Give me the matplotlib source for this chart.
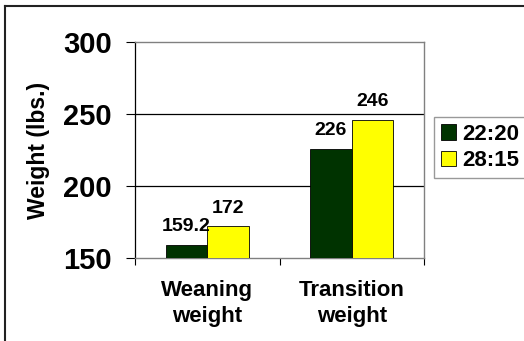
import matplotlib
matplotlib.use("Agg")
import matplotlib.pyplot as plt
from matplotlib.lines import Line2D
from matplotlib.patches import Patch
import numpy as np

# 数据
categories = ["Weaning\nweight", "Transition\nweight"]
series_names = ["22:20", "28:15"]
vals_2220 = [159.2, 226]
vals_2815 = [172, 246]
value_labels_2220 = ["159.2", "226"]
value_labels_2815 = ["172", "246"]
yticks = [150, 200, 250, 300]

plt.rcParams['font.family'] = ['Liberation Sans', 'DejaVu Sans']
plt.rcParams['font.weight'] = 'bold'

fig = plt.figure(figsize=(5.24, 3.41), dpi=100, facecolor='white')

# 外框（只露出上边和左边）
top_y = 1 - 6 / 341
left_x = 5 / 524
fig.lines.append(Line2D([left_x, 1.0], [top_y, top_y], transform=fig.transFigure,
                        color='#222222', linewidth=1.5))
fig.lines.append(Line2D([left_x, left_x], [0.0, top_y], transform=fig.transFigure,
                        color='#222222', linewidth=1.5))

ax = fig.add_axes([135 / 524, 83 / 341, 289 / 524, 216 / 341])

x = np.arange(len(categories))
w = 0.287
b1 = ax.bar(x - w / 2, vals_2220, w, bottom=0, color='#003300', edgecolor='black', linewidth=0.6, zorder=3)
b2 = ax.bar(x + w / 2, vals_2815, w, bottom=0, color='#FFFF00', edgecolor='black', linewidth=0.6, zorder=3)
ax.bar_label(b1, labels=value_labels_2220, padding=7, fontsize=14, fontweight='bold')
ax.bar_label(b2, labels=value_labels_2815, padding=7, fontsize=14, fontweight='bold')

ax.set_xlim(-0.5, 1.5)
ax.set_ylim(150, 300)
ax.set_yticks(yticks)
ax.set_yticklabels([str(v) for v in yticks], fontsize=21, fontweight='bold')
ax.tick_params(axis='y', direction='out', length=6.5, width=0.8, pad=10)

# x轴：类别名在中间，刻度线在分界处
ax.set_xticks(x)
ax.set_xticklabels(categories, fontsize=16, fontweight='bold', linespacing=1.3)
ax.tick_params(axis='x', which='major', length=0, pad=16)
ax.set_xticks([-0.5, 0.5, 1.5], minor=True)
ax.tick_params(axis='x', which='minor', direction='out', length=5, width=0.8, color='black')

ax.set_ylabel('Weight (lbs.)', fontsize=16.5, fontweight='bold')
ax.yaxis.set_label_coords(-0.295, 0.5)

# 网格线
for v in [200, 250]:
    ax.axhline(v, color='black', linewidth=0.9, zorder=1)

ax.spines['left'].set_color('black')
ax.spines['left'].set_linewidth(0.9)
for s in ['top', 'right', 'bottom']:
    ax.spines[s].set_color('#808080')
    ax.spines[s].set_linewidth(1.0)

handles = [Patch(facecolor='#003300', edgecolor='black', linewidth=0.6),
           Patch(facecolor='#FFFF00', edgecolor='black', linewidth=0.6)]
leg = fig.legend(handles, series_names, loc='upper left',
                 bbox_to_anchor=(434 / 524, 1 - 117 / 341),
                 prop={'size': 16, 'weight': 'bold'},
                 handlelength=0.7, handleheight=0.7, handletextpad=0.25,
                 labelspacing=0.25, borderpad=0.3, borderaxespad=0,
                 frameon=True, fancybox=False)
leg.get_frame().set_edgecolor('#808080')
leg.get_frame().set_linewidth(1.0)

plt.savefig('out.png', dpi=100, facecolor='white')
